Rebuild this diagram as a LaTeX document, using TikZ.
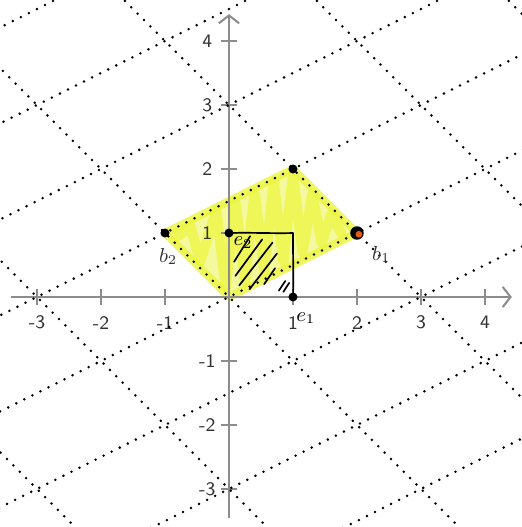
\documentclass[tikz,border=0pt]{standalone}
\usetikzlibrary{arrows.meta}
\definecolor{axisgray}{RGB}{140,140,140}
\definecolor{labgray}{RGB}{50,50,50}
\definecolor{hl}{RGB}{236,245,60}
\definecolor{dotorange}{RGB}{230,90,20}
\tikzset{
  axisline/.style={axisgray, line width=0.9pt, -{Straight Barb[length=3.5pt,width=9pt,line width=0.9pt]}},
  tickmark/.style={axisgray, line width=0.7pt},
  ticklab/.style={labgray, font=\sffamily\fontsize{8.5}{9}\selectfont, inner sep=0pt},
  latline/.style={black, line width=1.25pt, line cap=round, dash pattern=on 0pt off 4pt},
  hand/.style={black, line width=0.75pt, line cap=round, line join=round},
  pt/.style={circle, fill=black, inner sep=0pt, minimum size=4pt},
  veclab/.style={labgray, inner sep=0pt, font=\fontsize{9}{10}\selectfont},
}
\begin{document}
\begin{tikzpicture}[x=1cm,y=1cm]
\useasboundingbox (-3.578,-3.594) rectangle (4.578,4.641);
\fill[white] (-3.578,-3.594) rectangle (4.578,4.641);
% yellow highlight
\coordinate (O) at (0,0);
\coordinate (B1) at (2,1);
\coordinate (B2) at (-1,1);
\coordinate (B12) at (1,2);
\fill[hl, opacity=0.5] (O) -- (B1) -- (B12) -- (B2) -- cycle;
\draw[hl, opacity=0.8, line width=3.5pt, line join=round, line cap=round] (O) -- (B1) -- (B12) -- (B2) -- cycle;
\draw[hl, opacity=0.7, line width=4.5pt, line join=round, line cap=round]
  (-0.8,0.95) -- (-0.6,1.1) -- (-0.45,0.55) -- (-0.2,1.35) -- (-0.05,0.15) -- (0.1,1.5) -- (0.25,0.25) -- (0.4,1.65) -- (0.55,0.4) -- (0.7,1.8) -- (0.85,0.55) -- (1.0,1.9) -- (1.15,0.7) -- (1.3,1.6) -- (1.45,0.85) -- (1.6,1.3) -- (1.75,1.0);
% axes
\draw[axisline] (-3.4,0) -- (4.42,0);
\draw[axisline] (0,-3.45) -- (0,4.42);
\foreach \i in {-3,-2,-1,1,2,3,4} {
  \draw[tickmark] (\i,-0.13) -- (\i,0.13);
  \node[ticklab] (xl\i) at (\i,-0.4) {\i};
  \draw[tickmark] (-0.13,\i) -- (0.13,\i);
  \node[ticklab] (yl\i) at (-0.34,\i) {\i};
}
% lattice lines
\begin{scope}
\clip (-3.578,-3.594) rectangle (4.578,4.641);
\foreach \k in {-3,...,3} {
  \draw[latline] ({3*\k-9},9) -- ({3*\k+9},-9);
}
\foreach \m in {-4,...,4} {
  \draw[latline] ({3*\m-12},-6) -- ({3*\m+12},6);
}
\end{scope}
% hand-drawn unit square
\node[pt] (E2) at (0,1) {};
\node[pt] (E1) at (1,0) {};
\coordinate (C11) at (1,1);
\draw[hand] (E2.center) .. controls (0.4,1.01) and (0.7,0.99) .. (C11) .. controls (1.0,0.6) and (1.01,0.3) .. (E1.center);
\draw[hand] (0.08,0.55) -- (0.33,0.95);
\draw[hand] (0.1,0.33) -- (0.52,0.9);
\draw[hand] (0.16,0.18) -- (0.68,0.85);
\draw[hand] (0.32,0.12) -- (0.75,0.68);
\draw[hand] (0.55,0.2) -- (0.72,0.45);
\draw[hand] (0.78,0.1) -- (0.88,0.25);
\draw[hand] (0.85,0.08) -- (0.94,0.22);
\node[veclab, black] (e2lab) at (0.22,0.85) {$e_2$};
\node[veclab, black] (e1lab) at (1.2,-0.33) {$e_1$};
% basis points
\node[pt] (P2) at (B2) {};
\node[pt] (P12) at (B12) {};
\node[circle, fill=black, inner sep=0pt, minimum size=6pt] (P1) at (B1) {};
\fill[dotorange] (2.03,0.98) circle (1.5pt);
\node[veclab] (b1lab) at (2.38,0.66) {$b_1$};
\node[veclab] (b2lab) at (-0.95,0.63) {$b_2$};
\end{tikzpicture}
\end{document}
